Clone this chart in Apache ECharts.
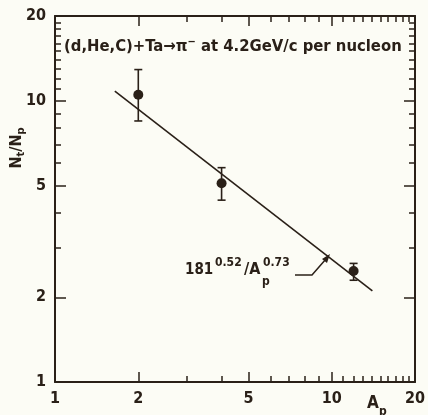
<!DOCTYPE html>
<html><head><meta charset="utf-8">
<script src="https://cdn.jsdelivr.net/npm/echarts@6/dist/echarts.min.js"></script>
<style>html,body{margin:0;padding:0;background:#fcfcf5}#c{width:428px;height:415px}</style>
</head><body><div id="c"></div>
<script>
// ---- data ----
const massNumbers = [2, 4, 12];
const ratioValues = [10.5, 5.09, 2.48];
const ratioLow = [8.47, 4.43, 2.30];
const ratioHigh = [12.9, 5.78, 2.64];
const fitLineX = [1.645, 14.03];
const fitLineY = [10.82, 2.107];
const xTickLabels = [1, 2, 5, 10, 20];
const xMajorTicks = [2, 5, 10, 20];
const xMinorTicks = [3, 4, 6, 7, 8, 9, 11, 12, 13, 14, 15, 16, 17, 18, 19];
const yTickLabels = [1, 2, 5, 10, 20];
const yMajorTicks = [2, 5, 10, 20];
const yMinorTicks = [3, 4, 6, 7, 8, 9, 11, 12, 13, 14, 15, 16, 17, 18, 19];

const INK = '#2a2018';
const FONT = '"DejaVu Sans Condensed", "DejaVu Sans", sans-serif';

function mkAxis(position, ticks, len, labels, showLine) {
  return {
    type: 'log', logBase: 10, min: 1, max: 20, position: position,
    axisLine: { show: showLine, lineStyle: { color: INK, width: 2 } },
    axisTick: { show: true, inside: true, length: len, customValues: ticks, lineStyle: { color: INK, width: 1.5 } },
    minorTick: { show: false },
    splitLine: { show: false },
    axisLabel: labels ? { show: true, customValues: labels, color: INK, fontFamily: FONT, fontWeight: 'bold', fontSize: 16, margin: 9 } : { show: false }
  };
}

function txt(x, y, text, size, align) {
  return {
    type: 'text', x: x, y: y, z: 10,
    style: { text: text, fill: INK, font: 'bold ' + size + 'px ' + FONT, align: align || 'left', verticalAlign: 'middle' }
  };
}

const chart = echarts.init(document.getElementById('c'), null, { renderer: 'canvas' });
const pts = massNumbers.map((a, i) => [a, ratioValues[i]]);
const errs = massNumbers.map((a, i) => [a, ratioLow[i], ratioHigh[i]]);
const fit = fitLineX.map((x, i) => [x, fitLineY[i]]);

chart.setOption({
  backgroundColor: '#fcfcf5',
  animation: false,
  grid: { left: 55, right: 12, top: 16, bottom: 33 },
  xAxis: [
    mkAxis('bottom', xMajorTicks, 10, xTickLabels, true),
    mkAxis('bottom', xMinorTicks, 6, null, false),
    mkAxis('top', xMajorTicks, 10, null, true),
    mkAxis('top', xMinorTicks, 6, null, false)
  ],
  yAxis: [
    mkAxis('left', yMajorTicks, 11, yTickLabels, true),
    mkAxis('left', yMinorTicks, 6, null, false),
    mkAxis('right', yMajorTicks, 11, null, true),
    mkAxis('right', yMinorTicks, 6, null, false)
  ],
  series: [
    {
      type: 'line', data: fit, xAxisIndex: 0, yAxisIndex: 0,
      symbol: 'none', lineStyle: { color: INK, width: 1.6 }, z: 2
    },
    {
      type: 'custom', data: errs, xAxisIndex: 0, yAxisIndex: 0, z: 3,
      renderItem: function (params, api) {
        const lo = api.coord([api.value(0), api.value(1)]);
        const hi = api.coord([api.value(0), api.value(2)]);
        const w = 4;
        const st = { stroke: INK, lineWidth: 1.6 };
        return {
          type: 'group', children: [
            { type: 'line', shape: { x1: lo[0], y1: lo[1], x2: hi[0], y2: hi[1] }, style: st },
            { type: 'line', shape: { x1: lo[0] - w, y1: lo[1], x2: lo[0] + w, y2: lo[1] }, style: st },
            { type: 'line', shape: { x1: hi[0] - w, y1: hi[1], x2: hi[0] + w, y2: hi[1] }, style: st }
          ]
        };
      }
    },
    {
      type: 'scatter', data: pts, xAxisIndex: 0, yAxisIndex: 0, z: 4,
      symbol: 'circle', symbolSize: 10, itemStyle: { color: INK, opacity: 1 }
    }
  ],
  graphic: [
    {
      type: 'text', left: 64, top: 37, z: 10,
      style: {
        text: '(d,He,C)+Ta→π{sup|−} at 4.2GeV/c per nucleon',
        fill: INK, font: 'bold 16.5px ' + FONT,
        rich: { sup: { fontSize: 11, fontWeight: 'bold', fontFamily: FONT, fill: INK, verticalAlign: 'top', padding: [0, 0, 8, 0] } }
      }
    },
    {
      type: 'text', x: 17, y: 148, rotation: Math.PI / 2, z: 10,
      style: {
        text: 'N{sub|t}/N{sub|p}', align: 'center', verticalAlign: 'middle',
        fill: INK, font: 'bold 16px ' + FONT,
        rich: { sub: { fontSize: 11, fontWeight: 'bold', fontFamily: FONT, fill: INK, padding: [8, 0, 0, 0] } }
      }
    },
    txt(367, 404, 'A', 17),
    txt(379, 412, 'p', 12),
    txt(185, 270, '181', 15),
    txt(215, 263, '0.52', 12),
    txt(244, 270, '/A', 16),
    txt(262, 282, 'p', 12),
    txt(263, 263, '0.73', 12),
    {
      type: 'polyline', z: 10,
      shape: { points: [[295, 275], [312, 275], [326, 259]] },
      style: { stroke: INK, lineWidth: 1.5, fill: null }
    },
    {
      type: 'polygon', z: 10,
      shape: { points: [[330, 254], [322, 259], [327, 263]] },
      style: { fill: INK }
    }
  ]
});
</script></body></html>
